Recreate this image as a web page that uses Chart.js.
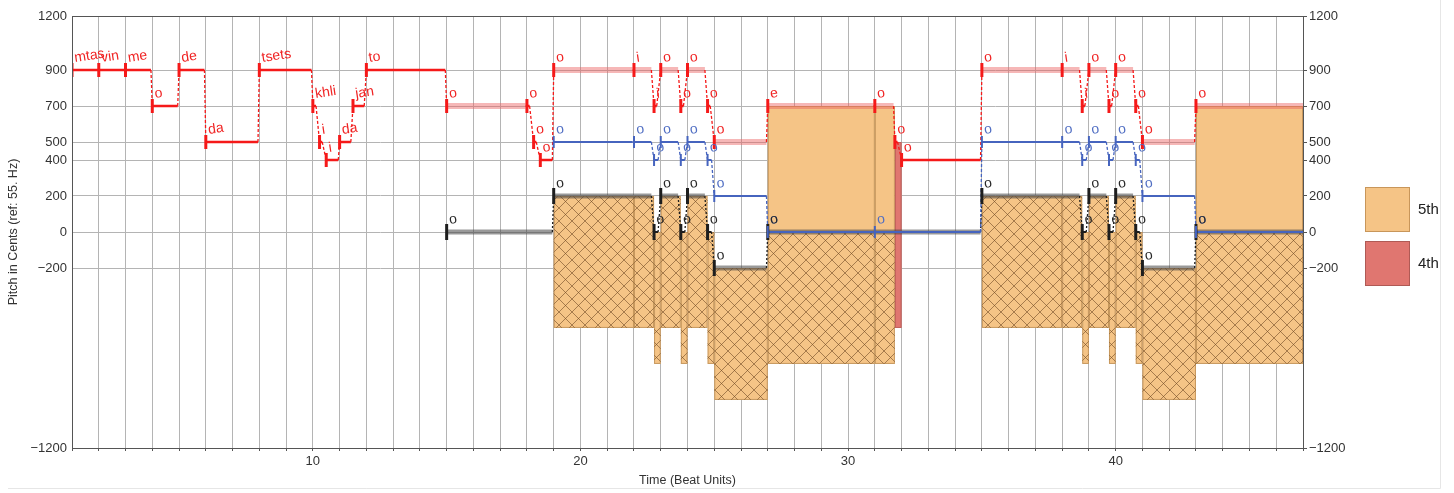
<!DOCTYPE html>
<html>
<head>
<meta charset="utf-8">
<script src="https://cdn.jsdelivr.net/npm/chart.js@4/dist/chart.umd.min.js"></script>
<style>
  html, body { margin: 0; padding: 0; background: #fff; }
  #caixa { width: 1454px; height: 493px; }
</style>
</head>
<body>
<div id="caixa"><canvas id="grafico" width="1454" height="493"></canvas></div>
<script>
// Escala vertical (cents) e horizontal (tempos)
const yTicks = [-1200, -200, 0, 200, 400, 500, 700, 900, 1200]
const xLabels = [10, 20, 30, 40]

// Voz vermelha (melodia)
const vermInicio = [1, 2, 3, 4, 5, 6, 8, 10, 10.25, 10.5, 11, 11.5, 12, 15, 18, 18.25, 18.5, 19, 22, 22.75, 23, 23.75, 24, 24.75, 25, 27, 31, 31.75, 32, 35, 38, 38.75, 39, 39.75, 40, 40.75, 41, 43]
const vermFim = [2, 3, 3.95, 4.95, 5.95, 7.95, 9.95, 10.12, 10.35, 10.95, 11.42, 11.92, 14.95, 17.95, 18.1, 18.35, 18.95, 21.95, 22.65, 22.85, 23.65, 23.85, 24.65, 24.85, 26.95, 30.95, 31.7, 31.85, 34.95, 37.95, 38.65, 38.85, 39.65, 39.85, 40.65, 40.85, 42.95, 47]
const vermAltura = [900, 900, 900, 700, 900, 500, 900, 700, 500, 400, 500, 700, 900, 700, 700, 500, 400, 900, 900, 700, 900, 700, 900, 700, 500, 700, 700, 500, 400, 900, 900, 700, 900, 700, 900, 700, 500, 700]
const vermSilaba = ['mtas', 'vin', 'me', 'o', 'de', 'da', 'tsets', 'khli', 'i', 'i', 'da', 'jan', 'to', 'o', 'o', 'o', 'o', 'o', 'i', 'i', 'o', 'o', 'o', 'o', 'o', 'e', 'o', 'o', 'o', 'o', 'i', 'i', 'o', 'o', 'o', 'o', 'o', 'o']
const vermSustenta = [0, 0, 0, 0, 0, 0, 0, 0, 0, 0, 0, 0, 0, 1, 0, 0, 0, 1, 1, 0, 1, 0, 1, 0, 1, 1, 1, 0, 0, 1, 1, 0, 1, 0, 1, 0, 1, 1]

// Voz azul
const azulInicio = [19, 22, 22.75, 23, 23.75, 24, 24.75, 25, 27, 31, 35, 38, 38.75, 39, 39.75, 40, 40.75, 41, 43]
const azulFim = [21.95, 22.65, 22.9, 23.65, 23.9, 24.65, 24.9, 26.95, 30.95, 34.95, 37.95, 38.65, 38.9, 39.65, 39.9, 40.65, 40.9, 42.95, 47]
const azulAltura = [500, 500, 400, 500, 400, 500, 400, 200, 0, 0, 500, 500, 400, 500, 400, 500, 400, 200, 0]
const azulSilaba = ['o', 'o', 'o', 'o', 'o', 'o', 'o', 'o', 'o', 'o', 'o', 'o', 'o', 'o', 'o', 'o', 'o', 'o', 'o']

// Voz preta (grave)
const pretoInicio = [15, 19, 22.75, 23, 23.75, 24, 24.75, 25, 27, 35, 38.75, 39, 39.75, 40, 40.75, 41, 43]
const pretoFim = [18.95, 22.65, 22.9, 23.65, 23.9, 24.65, 24.9, 26.95, 34.95, 38.65, 38.9, 39.65, 39.9, 40.65, 40.9, 42.95, 47]
const pretoAltura = [0, 200, 0, 200, 0, 200, 0, -200, 0, 200, 0, 200, 0, 200, 0, -200, 0]
const pretoSilaba = ['o', 'o', 'o', 'o', 'o', 'o', 'o', 'o', 'o', 'o', 'o', 'o', 'o', 'o', 'o', 'o', 'o']
const pretoSustenta = [1, 1, 0, 1, 0, 1, 0, 1, 1, 1, 0, 1, 0, 1, 0, 1, 1]

// Intervalos (áreas): quinta, quinta abaixo (hachurada), quarta
const intInicio = [19, 22, 22.75, 23, 23.75, 24, 24.75, 25, 27, 31, 35, 38, 38.75, 39, 39.75, 40, 40.75, 41, 43, 27, 31, 43, 31.75]
const intFim = [22, 22.75, 23, 23.75, 24, 24.75, 25, 27, 31, 31.75, 38, 38.75, 39, 39.75, 40, 40.75, 41, 43, 47, 31, 31.75, 47, 32]
const intTopo = [200, 200, 0, 200, 0, 200, 0, -200, 0, 0, 200, 200, 0, 200, 0, 200, 0, -200, 0, 700, 700, 700, 500]
const intBase = [-533, -533, -733, -533, -733, -533, -733, -933, -733, -733, -533, -533, -733, -533, -733, -533, -733, -933, -733, 0, 0, 0, -533]
const intTipo = ['q5b', 'q5b', 'q5b', 'q5b', 'q5b', 'q5b', 'q5b', 'q5b', 'q5b', 'q5b', 'q5b', 'q5b', 'q5b', 'q5b', 'q5b', 'q5b', 'q5b', 'q5b', 'q5b', 'q5', 'q5', 'q5', 'q4']

const legendaNomes = ['5th', '4th']

const corQuinta = 'rgb(245,196,134)'
const corQuarta = 'rgb(224,118,112)'

//Monta os trechos horizontais de uma voz
function trechos(ini, fim, alt, sel) {
  const pts = []
  ini.forEach((x, i) => {
    if (!sel(i)) return
    pts.push({x: x, y: alt[i]}, {x: fim[i], y: alt[i]}, {x: fim[i], y: null})
  })
  return pts
}

//Ligações tracejadas entre notas seguidas
function ligacoes(ini, fim, alt) {
  const pts = []
  for (let i = 1; i < ini.length; i++) {
    if (ini[i] - fim[i - 1] > 0.3) continue
    pts.push({x: fim[i - 1], y: alt[i - 1]}, {x: ini[i], y: alt[i]}, {x: ini[i], y: null})
  }
  return pts
}

function inicios(ini, alt) {
  return ini.map((x, i) => ({x: x, y: alt[i]}))
}

function linha(dados, cor, largura, ordem, tracejado) {
  return {
    data: dados, showLine: true, borderColor: cor, borderWidth: largura,
    pointRadius: 0, borderDash: tracejado || [], order: ordem, spanGaps: false
  }
}

function barras(dados, cor, raio, largura) {
  return {
    data: dados, showLine: false, pointStyle: 'line', rotation: 90,
    pointRadius: raio, pointBorderColor: cor, pointBorderWidth: largura, order: 1
  }
}

const vermelho = 'rgb(245,25,25)'
const azul = 'rgb(70,100,190)'
const preto = 'rgb(30,30,30)'

const datasets = [
  linha(trechos(vermInicio, vermFim, vermAltura, i => vermSustenta[i]), 'rgba(236,95,95,0.45)', 6, 9),
  linha(trechos(pretoInicio, pretoFim, pretoAltura, i => pretoSustenta[i]), 'rgba(70,70,70,0.55)', 5, 9),
  linha(trechos(vermInicio, vermFim, vermAltura, i => !vermSustenta[i]), vermelho, 2.5, 5),
  linha(trechos(azulInicio, azulFim, azulAltura, () => true), azul, 2, 5),
  linha(trechos(pretoInicio, pretoFim, pretoAltura, i => !pretoSustenta[i]), preto, 2, 5),
  linha(ligacoes(vermInicio, vermFim, vermAltura), vermelho, 1.3, 6, [3, 2]),
  linha(ligacoes(azulInicio, azulFim, azulAltura), azul, 1.3, 6, [3, 2]),
  linha(ligacoes(pretoInicio, pretoFim, pretoAltura), preto, 1.3, 6, [2, 2]),
  barras(inicios(vermInicio, vermAltura), vermelho, 7, 3),
  barras(inicios(azulInicio, azulAltura), azul, 6, 2),
  barras(inicios(pretoInicio, pretoAltura), preto, 8, 3)
]

//Áreas dos intervalos, desenhadas antes das linhas
const pluginAreas = {
  id: 'areas',
  beforeDatasetsDraw(chart) {
    const {ctx, chartArea, scales} = chart
    if (!chart.$hachura) {
      const c = document.createElement('canvas')
      c.width = 13; c.height = 13
      const g = c.getContext('2d')
      g.strokeStyle = 'rgba(110,72,35,0.62)'
      g.lineWidth = 0.95
      g.beginPath()
      g.moveTo(-1, -1); g.lineTo(14, 14)
      g.moveTo(14, -1); g.lineTo(-1, 14)
      g.stroke()
      chart.$hachura = ctx.createPattern(c, 'repeat')
    }
    ctx.save()
    ctx.beginPath()
    ctx.rect(chartArea.left, chartArea.top, chartArea.width, chartArea.height)
    ctx.clip()
    intInicio.forEach((x0, i) => {
      const xa = scales.x.getPixelForValue(x0)
      const xb = scales.x.getPixelForValue(intFim[i])
      const ya = scales.y.getPixelForValue(intTopo[i])
      const yb = scales.y.getPixelForValue(intBase[i])
      ctx.fillStyle = intTipo[i] === 'q4' ? corQuarta : corQuinta
      ctx.fillRect(xa, ya, xb - xa, yb - ya)
      if (intTipo[i] === 'q5b') {
        ctx.fillStyle = chart.$hachura
        ctx.fillRect(xa, ya, xb - xa, yb - ya)
      }
      ctx.strokeStyle = intTipo[i] === 'q4' ? 'rgba(170,80,75,0.6)' : 'rgba(160,115,60,0.55)'
      ctx.lineWidth = 1
      ctx.strokeRect(xa + 0.5, ya + 0.5, xb - xa - 1, yb - ya - 1)
    })
    ctx.restore()
  },
  afterDatasetsDraw(chart) {
    const {ctx, chartArea, scales} = chart
    // sílabas
    const rotulos = [
      [vermInicio, vermAltura, vermSilaba, 'rgb(240,35,35)'],
      [azulInicio, azulAltura, azulSilaba, 'rgb(80,110,195)'],
      [pretoInicio, pretoAltura, pretoSilaba, 'rgb(40,40,40)']
    ]
    ctx.save()
    ctx.font = '14px "Liberation Sans", Arial, sans-serif'
    ctx.textBaseline = 'alphabetic'
    rotulos.forEach(([ini, alt, sil, cor]) => {
      ctx.fillStyle = cor
      ini.forEach((x, i) => {
        const px = scales.x.getPixelForValue(x) + 3
        const py = scales.y.getPixelForValue(alt[i]) - 8
        ctx.save()
        ctx.translate(px, py)
        ctx.rotate(-0.15)
        ctx.fillText(sil[i], 0, 0)
        ctx.restore()
      })
    })
    // moldura
    ctx.strokeStyle = '#555'
    ctx.lineWidth = 1
    ctx.strokeRect(chartArea.left + 0.5, chartArea.top + 0.5, chartArea.width, chartArea.height)
    // legenda
    const lx = chartArea.right + 62
    const meio = (chartArea.top + chartArea.bottom) / 2
    const cores = [[corQuinta, 'rgb(200,150,90)'], [corQuarta, 'rgb(175,90,85)']]
    ctx.font = '15px "Liberation Sans", Arial, sans-serif'
    ctx.textBaseline = 'middle'
    legendaNomes.forEach((nome, i) => {
      const ly = i === 0 ? meio - 45 : meio + 9
      ctx.fillStyle = cores[i][0]
      ctx.fillRect(lx, ly, 45, 45)
      ctx.strokeStyle = cores[i][1]
      ctx.strokeRect(lx + 0.5, ly + 0.5, 44, 44)
      ctx.fillStyle = '#222'
      ctx.fillText(nome, lx + 53, ly + 23)
    })
    // borda externa clara (base e lado direito)
    ctx.strokeStyle = '#e6e6e6'
    ctx.beginPath()
    ctx.moveTo(8, 488.5)
    ctx.lineTo(1440.5, 488.5)
    ctx.lineTo(1440.5, 0)
    ctx.stroke()
    ctx.restore()
  }
}

function formata(v) {
  return v < 0 ? '\u2212' + Math.abs(v) : String(v)
}

const fonteEixo = {family: '"Liberation Sans", Arial, sans-serif', size: 13}
const fonteTitulo = {family: '"Liberation Sans", Arial, sans-serif', size: 12.5}

const ctx = document.getElementById('grafico')

let grafico = new Chart(ctx, {
  type: 'scatter',
  data: {datasets: datasets},
  options: {
    responsive: false,
    animation: false,
    devicePixelRatio: 1,
    events: [],
    layout: {padding: {left: 0, right: 101, top: 16, bottom: 5}},
    plugins: {legend: {display: false}, tooltip: {enabled: false}},
    scales: {
      x: {
        type: 'linear', min: 1, max: 47,
        afterFit: s => { s.height = 40 },
        ticks: {
          stepSize: 1, autoSkip: false, maxRotation: 0, padding: 3, color: '#333', font: fonteEixo,
          callback: v => xLabels.includes(v) ? String(v) : ''
        },
        grid: {color: '#b4b4b4', lineWidth: 1, tickLength: 3, tickColor: '#555'},
        border: {color: '#555'},
        title: {display: true, text: 'Time (Beat Units)', color: '#333', padding: {top: 0, bottom: 0}, font: fonteTitulo}
      },
      y: {
        type: 'linear', min: -1200, max: 1200, position: 'left',
        afterFit: s => { s.width = 72 },
        afterBuildTicks: s => { s.ticks = yTicks.map(v => ({value: v})) },
        ticks: {color: '#333', font: fonteEixo, padding: 5, callback: formata},
        grid: {color: '#b4b4b4', lineWidth: 1, tickLength: 0},
        border: {color: '#555'},
        title: {display: true, text: 'Pitch in Cents (ref: 55. Hz)', color: '#333', padding: {top: 6, bottom: 0}, font: fonteTitulo}
      },
      y2: {
        type: 'linear', min: -1200, max: 1200, position: 'right',
        afterFit: s => { s.width = 50 },
        afterBuildTicks: s => { s.ticks = yTicks.map(v => ({value: v})) },
        ticks: {color: '#333', font: fonteEixo, padding: 2, callback: formata},
        grid: {drawOnChartArea: false, tickLength: 4, tickColor: '#555'},
        border: {color: '#555'}
      }
    }
  },
  plugins: [pluginAreas]
})
</script>
</body>
</html>
